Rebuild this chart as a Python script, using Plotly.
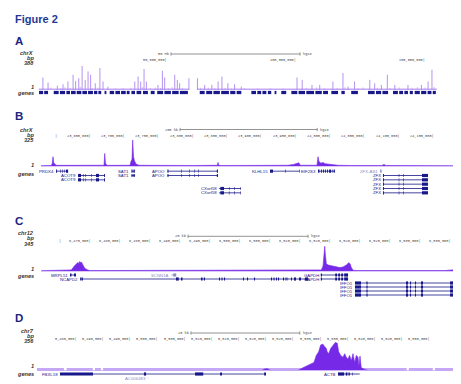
import plotly.graph_objects as go

W, H = 461, 384

# ---------------- Panel A : chrX (whole chromosome, Mb) ----------------
A_peak_mb = [1.9, 3.9, 7.5, 9.7, 11.6, 13.6, 14.6, 15.8, 17.1, 18.3,
             19.4, 20.4, 22.2, 24.0, 25.2, 27.1, 37.5, 38.8, 39.8, 41.1,
             42.0, 46.5, 48.2, 49.1, 53.0, 54.0, 54.9, 58.5, 61.8, 64.6,
             67.4, 69.8, 71.3, 73.6, 76.2, 78.8, 100.4, 102.4, 106.2, 109.2,
             114.3, 118.2, 120.2, 122.7, 128.6, 130.5, 133.1, 135.4, 138.3, 143.4,
             148.6, 151.2, 152.7]
A_peak_val = [202, 120, 71, 93, 137, 246, 147, 191, 388, 164,
              300, 246, 109, 355, 137, 55, 137, 218, 137, 339,
              137, 82, 311, 202, 246, 164, 109, 191, 191, 82,
              82, 137, 218, 109, 93, 55, 202, 164, 82, 82,
              137, 273, 55, 137, 164, 109, 82, 246, 82, 82,
              82, 137, 328]
A_minor_mb = [5.0, 8.8, 10.5, 12.5, 16.4, 21.0, 23.2, 30.0, 33.0, 36.0,
              40.5, 43.5, 45.5, 47.5, 50.5, 52.0, 56.0, 63.0, 66.0, 68.5,
              72.5, 75.0, 80.0, 85.0, 90.0, 95.0, 104.0, 108.0, 111.0, 116.0,
              119.0, 124.0, 126.0, 131.5, 136.5, 140.0, 145.0, 147.0, 150.0, 153.5]
A_minor_val = [40, 30, 45, 35, 50, 30, 40, 25, 30, 35,
               45, 30, 40, 35, 30, 45, 30, 35, 40, 30,
               35, 25, 30, 25, 30, 25, 35, 40, 30, 35,
               45, 30, 40, 35, 30, 40, 35, 45, 40, 50]
A_arms_mb = [(0.3, 58.6), (61.6, 154.6)]
A_gene_blocks_mb = [(0.4, 2.0), (2.4, 3.9), (6.1, 8.0), (8.5, 10.5), (11.0, 12.4), (12.8, 14.6),
                    (15.0, 16.8), (17.2, 19.0), (19.4, 21.3), (21.7, 23.0), (23.4, 24.5), (25.8, 26.5),
                    (27.8, 29.5), (30.0, 31.8), (32.2, 34.0), (34.4, 35.5), (36.2, 37.6), (38.2, 40.0),
                    (40.7, 42.6), (43.7, 45.2), (46.2, 48.5), (49.0, 51.5), (52.0, 54.5), (55.0, 58.1),
                    (62.7, 64.6), (65.2, 67.5), (68.0, 70.5), (71.0, 74.0), (74.5, 76.5), (77.0, 78.8),
                    (82.7, 84.5), (85.0, 86.5), (87.0, 88.5), (89.1, 90.4), (91.7, 92.4), (94.3, 96.2),
                    (98.2, 100.5), (101.0, 103.5), (104.0, 107.0), (107.5, 110.0), (110.5, 112.4),
                    (113.7, 116.3), (117.6, 118.9), (121.4, 124.0), (127.9, 130.5), (131.0, 133.0),
                    (133.5, 135.7), (137.6, 139.5), (140.0, 141.5), (142.0, 143.4), (144.1, 145.3),
                    (146.0, 148.0), (148.5, 150.5), (151.0, 152.5), (153.0, 154.2)]
A_ticks = [50, 100, 150]
A_tick_labels = ["50,000,000", "100,000,000", "150,000,000"]

# ---------------- Panel B : chrX:23.58-24.19 Mb ----------------
B_pos = [23577000, 23585000, 23592000, 23593500, 23594500, 23595500, 23597500, 23600000,
         23620000, 23640000, 23655000, 23668900, 23669900, 23671000, 23673000,
         23690000, 23706800, 23708200, 23709700, 23710700, 23711900, 23713300, 23715500, 23719900,
         23740000, 23770000, 23800000, 23825000, 23834300, 23835100, 23835800, 23838000,
         23870000, 23900000, 23925000, 23937000, 23945000, 23950000, 23953000, 23955000,
         23965000, 23979400, 23980900, 23982300, 23985200, 23988200, 23991000, 23995500, 24002700, 24010000,
         24030000, 24050000, 24074000, 24077000, 24080000,
         24100000, 24130000, 24160000, 24185000]
B_val = [10, 12, 12, 40, 120, 50, 25, 14,
         12, 14, 12, 15, 160, 40, 14,
         12, 15, 60, 90, 325, 120, 70, 30, 15,
         12, 13, 12, 14, 15, 50, 20, 12,
         12, 14, 14, 15, 25, 40, 45, 15,
         14, 15, 120, 60, 40, 50, 35, 30, 25, 15,
         12, 12, 12, 25, 12,
         12, 12, 12, 10]
B_ticks = [23600000, 23650000, 23700000, 23750000, 23800000, 23850000,
           23900000, 23950000, 24000000, 24050000, 24100000, 24150000]
B_tick_labels = ["", "23,650,000", "23,700,000", "23,750,000", "23,800,000", "23,850,000",
                 "23,900,000", "23,950,000", "24,000,000", "24,050,000", "24,100,000", "24,150,000"]
B_genes = [
    ("PRDX4", [1], 23599000, 23616500,
     [(23599000, 23600400), (23604700, 23605500), (23607600, 23608400), (23610500, 23611300), (23613500, 23616500)]),
    ("ACOT9", [2, 3], 23631000, 23670300,
     [(23631000, 23635300), (23638200, 23639000), (23641900, 23642700), (23649900, 23650700),
      (23657200, 23661600), (23669000, 23670300)]),
    ("SAT1", [1, 2], 23709000, 23714100,
     [(23709000, 23710500), (23711500, 23712300), (23713000, 23714100)]),
    ("APOO", [1, 2], 23761400, 23835000,
     [(23761400, 23762900), (23781100, 23781900), (23792800, 23793600), (23800800, 23801600),
      (23805900, 23806700), (23833400, 23835000)]),
    ("CXorf58", [5, 6], 23836500, 23868600,
     [(23838500, 23843800), (23851000, 23851800), (23858400, 23859200), (23867900, 23868600)]),
    ("KLHL15", [1], 23910900, 23954600,
     [(23910900, 23915300), (23932700, 23933500), (23953900, 23954600)]),
    ("EIF2S3", [1], 23980900, 24005700,
     [(23980900, 23983000), (23985200, 23986500), (23988200, 23989500), (23991000, 23992300),
      (23994000, 23995300), (23997000, 24000000), (24002000, 24003200), (24004500, 24005700)]),
    ("ZFX", [2, 3, 4, 5, 6], 24075600, 24141200,
     [(24075600, 24077000), (24098600, 24099400), (24105400, 24106200), (24132500, 24141200)]),
]
B_gray_genes = [("ZFX-AS1", [1], 24071500, 24073500, [(24071500, 24073500)])]

# ---------------- Panel C : chr12:6.467-6.536 Mb ----------------
C_pos = [6466700, 6468000, 6470000, 6471000, 6471716, 6472283, 6472550, 6472833, 6473000, 6473116,
         6473250, 6473383, 6473666, 6473950, 6474383, 6474783, 6476000, 6480000, 6485000, 6490000,
         6495000, 6500000, 6505000, 6510000, 6512500, 6513390, 6513670, 6513840, 6513960, 6514060,
         6514220, 6514510, 6515060, 6515630, 6516460, 6517010, 6517560, 6517960, 6518180, 6518390,
         6518680, 6519230, 6522000, 6526000, 6530000, 6534000, 6535200, 6535700, 6536167]
C_val = [10, 12, 14, 13, 20, 74, 95, 114, 100, 127,
         110, 120, 82, 41, 21, 12, 12, 13, 12, 14,
         12, 13, 12, 15, 16, 20, 70, 213, 316, 213,
         98, 82, 70, 58, 49, 58, 82, 111, 98, 49,
         16, 12, 12, 10, 12, 12, 20, 28, 22]
C_ticks = [6470000, 6475000, 6480000, 6485000, 6490000, 6495000, 6500000,
           6505000, 6510000, 6515000, 6520000, 6525000, 6530000, 6535000]
C_tick_labels = ["", "6,475,000", "6,480,000", "6,485,000", "6,490,000", "6,495,000", "6,500,000",
                 "6,505,000", "6,510,000", "6,515,000", "6,520,000", "6,525,000", "6,530,000", "6,535,000"]
C_genes = [
    ("MRPL51", [1], 6471500, 6472500, [(6471500, 6471750), (6472170, 6472500)]),
    ("NCAPD2", [2], 6473170, 6511170,
     [(6473170, 6473300), (6473400, 6473650), (6489170, 6489620), (6490000, 6490250), (6493340, 6493600),
      (6493800, 6494000), (6496340, 6496500), (6496750, 6496920), (6497170, 6497340), (6500340, 6500500),
      (6501000, 6501170), (6502170, 6502340), (6505000, 6505170), (6505420, 6505590), (6505840, 6506000),
      (6506170, 6506340), (6507000, 6507170), (6507420, 6507590), (6507760, 6507840), (6508340, 6508500),
      (6508840, 6509170), (6509670, 6510000), (6510670, 6511170)]),
    ("GAPDH", [1, 2], 6513300, 6517840,
     [(6513300, 6513500), (6515700, 6516000), (6516200, 6516500), (6516700, 6517000), (6517200, 6517840)]),
    ("IFFO1", [3, 4, 5, 6], 6519000, 6535680,
     [(6519000, 6520000), (6520900, 6521100), (6527500, 6527840), (6528170, 6528340), (6529000, 6529170),
      (6530000, 6530340), (6534840, 6535680)]),
]
C_gray_genes = [("SCNN1A", [1], 6488400, 6489200, [(6488700, 6489200)])]

# ---------------- Panel D : chr7:5.478-5.554 Mb ----------------
D_pos = [5477650, 5519000, 5519500, 5520000, 5520600,
         5525620, 5526540, 5527460, 5528060, 5528560, 5528980, 5529420, 5529790, 5530210, 5530530,
         5530820, 5531000, 5531260, 5531630, 5532050, 5532480, 5532840, 5533100, 5533470, 5533890,
         5534200, 5534500, 5534810, 5535120, 5535420, 5535730, 5536040, 5536340, 5536650, 5536830,
         5537020, 5537250, 5537880, 5538490, 5554480]
D_val = [0, 0, 18, 22, 0,
         0, 34, 64, 76, 98, 182, 225, 309, 318, 288,
         267, 225, 203, 267, 309, 339, 330, 225, 182, 161,
         203, 161, 140, 182, 118, 203, 98, 182, 161, 55,
         174, 34, 13, 0, 0]
D_base_segments = [(5477650, 5482600), (5483100, 5487900), (5488300, 5489400),
                   (5489800, 5545600), (5546000, 5550400), (5550800, 5554480)]
D_ticks = [5485000, 5490000, 5495000, 5500000, 5505000, 5510000, 5515000,
           5520000, 5525000, 5530000, 5535000, 5540000, 5545000, 5550000]
D_tick_labels = ["5,485,000", "5,490,000", "5,495,000", "5,500,000", "5,505,000", "5,510,000", "5,515,000",
                 "5,520,000", "5,525,000", "5,530,000", "5,535,000", "5,540,000", "5,545,000", "5,550,000"]
D_genes = [
    ("FBXL18", [1], 5481875, 5519740,
     [(5481875, 5487940), (5497300, 5497700), (5506700, 5508200), (5511300, 5511650), (5519400, 5519740)]),
    ("ACTB", [1], 5532970, 5536960,
     [(5532970, 5534100), (5534400, 5534700), (5534900, 5535150), (5535600, 5535700)]),
]
D_gray_genes = [("AC006483", [2], 5498000, 5498100, [])]

# ---------------- scale bars / side labels ----------------
scale_bars = [  # (panel, start, length, label)
    ("A", 51.55, 50, "50 Mb"),
    ("B", 23779700, 200000, "200 kb"),
    ("C", 6491170, 20000, "20 kb"),
    ("D", 5505950, 20000, "20 kb"),
]
chrom_names = {"A": "chrX", "B": "chrX", "C": "chr12", "D": "chr7"}
max_values = {"A": 388, "B": 325, "C": 345, "D": 356}

# ---------------- layout geometry (pixels) ----------------
def xp(p):
    return p / W

def yp(p):
    return 1 - p / H

panels = {
    "A": dict(xa="x", xd=(30, 430), xr=(0, 155.04), sy="y", sd=(82, 58), gy="y2", gd=(86.5, 82.5), rows=1,
              letter_y=33, label_y=(44.8, 50.2, 55.4, 79.0, 84.8), bar_y=46, tick_y=52),
    "B": dict(xa="x2", xd=(33, 450), xr=(23577000, 24185000), sy="y3", sd=(158.5, 132), gy="y4", gd=(187, 161), rows=6,
              letter_y=108, label_y=(121.5, 126.9, 132.1, 156.6, 166), bar_y=121.5, tick_y=127.5),
    "C": dict(xa="x3", xd=(33, 450), xr=(6466667, 6536167), sy="y5", sd=(263.5, 236), gy="y6", gd=(289, 265), rows=6,
              letter_y=213, label_y=(225, 230.4, 235.6, 260.7, 267.7), bar_y=228.3, tick_y=233.3),
    "D": dict(xa="x4", xd=(29, 447), xr=(5477650, 5554480), sy="y7", sd=(362.5, 333), gy="y8", gd=(372, 364), rows=2,
              letter_y=310, label_y=(322.8, 328.2, 333.4, 358.3, 366), bar_y=325, tick_y=331),
}

NAVY = "rgb(24,24,138)"
PURPLE = "rgb(118,42,232)"
LAVENDER = "rgb(196,168,246)"
SPIKE = "rgb(172,135,238)"
GRAY_GENE = "rgb(140,140,200)"
TICK_FONT = dict(family="Liberation Mono, DejaVu Sans Mono, monospace", size=3.6, color="#444")

fig = go.Figure()
annotations = []
shapes = []
layout_axes = {}

for key, P in panels.items():
    xnum = P["xa"][1:]
    signum = P["sy"][1:]
    genenum = P["gy"][1:]
    layout_axes["xaxis" + xnum] = dict(domain=[xp(P["xd"][0]), xp(P["xd"][1])], range=list(P["xr"]),
                                       visible=False, fixedrange=True, anchor=P["sy"])
    layout_axes["yaxis" + signum] = dict(domain=[yp(P["sd"][0]), yp(P["sd"][1])], range=[0, max_values[key]],
                                         visible=False, fixedrange=True, anchor=P["xa"])
    layout_axes["yaxis" + genenum] = dict(domain=[yp(P["gd"][0]), yp(P["gd"][1])],
                                          range=[P["rows"] + 0.5, 0.5],
                                          visible=False, fixedrange=True, anchor=P["xa"])
    P["upp"] = (P["xr"][1] - P["xr"][0]) / (P["xd"][1] - P["xd"][0])  # data units per pixel

# ---- Panel A traces ----
bx, by = [], []
for s, e in A_arms_mb:
    bx += [s, e, None]
    by += [8, 8, None]
fig.add_trace(go.Scatter(x=bx, y=by, mode="lines", line=dict(color=LAVENDER, width=2.2),
                         xaxis="x", yaxis="y", hoverinfo="skip"))

def spikes(xs, vs):
    sx, sy = [], []
    for p, v in zip(xs, vs):
        sx += [p, p, None]
        sy += [0, v, None]
    return sx, sy

sx, sy = spikes(A_minor_mb, A_minor_val)
fig.add_trace(go.Scatter(x=sx, y=sy, mode="lines", line=dict(color="rgba(185,155,242,0.9)", width=0.8),
                         xaxis="x", yaxis="y", hoverinfo="skip"))
sx, sy = spikes(A_peak_mb, A_peak_val)
fig.add_trace(go.Scatter(x=sx, y=sy, mode="lines", line=dict(color=SPIKE, width=0.9),
                         xaxis="x", yaxis="y", hoverinfo="skip"))
gx, gy = [], []
for s, e in A_gene_blocks_mb:
    gx += [s, e, None]
    gy += [1, 1, None]
fig.add_trace(go.Scatter(x=gx, y=gy, mode="lines", line=dict(color=NAVY, width=3.4),
                         xaxis="x", yaxis="y2", hoverinfo="skip"))

# ---- Signal traces B, C, D ----
for key, pos, val in (("B", B_pos, B_val), ("C", C_pos, C_val), ("D", D_pos, D_val)):
    P = panels[key]
    if key == "D":
        dx, dy = [], []
        for s, e in D_base_segments:
            dx += [s, e, None]
            dy += [14, 14, None]
        fig.add_trace(go.Scatter(x=dx, y=dy, mode="lines", line=dict(color=LAVENDER, width=2.8),
                                 xaxis=P["xa"], yaxis=P["sy"], hoverinfo="skip"))
    fig.add_trace(go.Scatter(x=pos, y=val, mode="lines", fill="tozeroy", fillcolor=PURPLE,
                             line=dict(color=PURPLE, width=0.6), xaxis=P["xa"], yaxis=P["sy"], hoverinfo="skip"))

# ---- Gene models B, C, D ----
def add_genes(key, genes, color, label_color):
    P = panels[key]
    ix, iy, ex, ey = [], [], [], []
    for name, rows, start, end, exons in genes:
        for r in rows:
            ix += [start, end, None]
            iy += [r, r, None]
            for s, e in exons:
                ex += [s, e, None]
                ey += [r, r, None]
            annotations.append(dict(x=start - 1.2 * P["upp"], y=r, xref=P["xa"], yref=P["gy"],
                                    text=name, showarrow=False, xanchor="right", yanchor="middle", borderpad=0,
                                    font=dict(family="Liberation Sans, Arial", size=4.3, color=label_color)))
    fig.add_trace(go.Scatter(x=ix, y=iy, mode="lines", line=dict(color=color, width=0.8),
                             xaxis=P["xa"], yaxis=P["gy"], hoverinfo="skip"))
    fig.add_trace(go.Scatter(x=ex, y=ey, mode="lines", line=dict(color=color, width=3.2),
                             xaxis=P["xa"], yaxis=P["gy"], hoverinfo="skip"))

add_genes("B", B_genes, NAVY, NAVY)
add_genes("B", B_gray_genes, GRAY_GENE, GRAY_GENE)
add_genes("C", C_genes, NAVY, NAVY)
add_genes("C", C_gray_genes, GRAY_GENE, GRAY_GENE)
add_genes("D", D_genes, NAVY, NAVY)
add_genes("D", D_gray_genes, GRAY_GENE, GRAY_GENE)

# ---- tick labels ----
for key, ticks, labels in (("A", A_ticks, A_tick_labels), ("B", B_ticks, B_tick_labels),
                           ("C", C_ticks, C_tick_labels), ("D", D_ticks, D_tick_labels)):
    P = panels[key]
    for t, lab in zip(ticks, labels):
        annotations.append(dict(x=t + 0.8 * P["upp"], y=yp(P["tick_y"]), xref=P["xa"], yref="paper",
                                text=lab + "|", showarrow=False, xanchor="right", yanchor="middle",
                                borderpad=0, font=TICK_FONT))

# ---- scale bars ----
for key, start, length, lab in scale_bars:
    P = panels[key]
    y = yp(P["bar_y"])
    end = start + length
    shapes.append(dict(type="line", xref=P["xa"], yref="paper", x0=start, x1=end, y0=y, y1=y,
                       line=dict(color="#777", width=0.8)))
    for xx in (start, end):
        shapes.append(dict(type="line", xref=P["xa"], yref="paper", x0=xx, x1=xx,
                           y0=y - 1.6 / H, y1=y + 1.6 / H, line=dict(color="#777", width=0.8)))
    annotations.append(dict(x=start - 1.0 * P["upp"], y=y, xref=P["xa"], yref="paper", text=lab,
                            showarrow=False, xanchor="right", yanchor="middle", borderpad=0, font=TICK_FONT))
    annotations.append(dict(x=end + 2.0 * P["upp"], y=y, xref=P["xa"], yref="paper", text="hg18",
                            showarrow=False, xanchor="left", yanchor="middle", borderpad=0, font=TICK_FONT))

# ---- side labels and panel letters ----
SIDE_FONT = dict(family="Liberation Sans, Arial", size=5.6, color="#333")
for key, P in panels.items():
    texts = [chrom_names[key], "bp", str(max_values[key]), "1", "genes"]
    for t, ypix in zip(texts, P["label_y"]):
        annotations.append(dict(x=xp(26.5), y=yp(ypix), xref="paper", yref="paper",
                                text="<b><i>" + t + "</i></b>", showarrow=False, borderpad=0,
                                xanchor="right", yanchor="middle", font=SIDE_FONT))
    annotations.append(dict(x=xp(6), y=yp(P["letter_y"]), xref="paper", yref="paper",
                            text="<b>" + key + "</b>", showarrow=False, xanchor="left", yanchor="middle",
                            borderpad=0,
                            font=dict(family="Liberation Sans, Arial", size=11.5, color="rgb(26,36,128)")))

annotations.append(dict(x=xp(6), y=yp(11), xref="paper", yref="paper", text="<b>Figure 2</b>",
                        showarrow=False, xanchor="left", yanchor="middle", borderpad=0,
                        font=dict(family="Liberation Sans, Arial", size=11, color="rgb(30,58,150)")))

fig.update_layout(
    width=W, height=H, margin=dict(l=0, r=0, t=0, b=0),
    paper_bgcolor="white", plot_bgcolor="white",
    showlegend=False,
    annotations=annotations, shapes=shapes,
    **layout_axes,
)

fig.write_html("out.html", config={"displayModeBar": False})
